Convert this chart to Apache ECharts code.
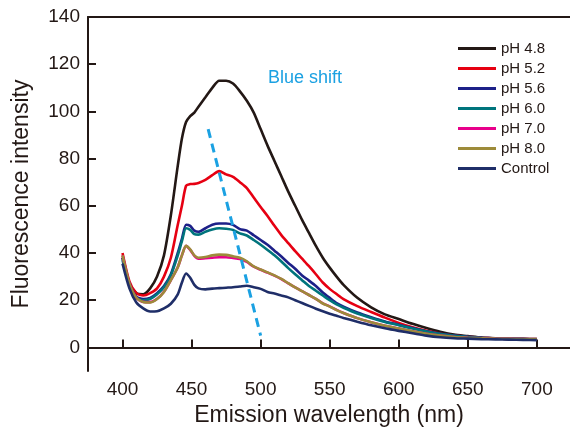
<!DOCTYPE html>
<html>
<head>
<meta charset="utf-8">
<script src="https://cdn.jsdelivr.net/npm/echarts@6/dist/echarts.min.js"></script>
<style>
  html, body { margin: 0; padding: 0; background: #ffffff; }
  #chart { width: 570px; height: 434px; }
</style>
</head>
<body>
<div id="chart"></div>
<script>
// Emission wavelength grid (nm)
const wavelength = [400,405,410,415,420,425,430,435,440,443,446,449,452,455,460,465,470,475,480,485,490,495,500,505,510,515,520,525,530,535,540,545,550,555,560,570,580,590,600,610,620,630,640,650,660,670,680,690,700];

// Fluorescence intensity per condition
const ph48 = [38,27,23,22.5,25,30,39,56,77,88.5,95.5,98,99.5,102,106,110,113,113,111.8,108.5,104.5,99.5,92.5,85.5,79,72.5,66,60,54,48.5,43,38,33.8,30,26.5,21,17,14,12,10,8.2,6.6,5.4,4.8,4.2,3.9,3.7,3.6,3.5];
const ph52 = [40,28,23,22,23,25,30,38,52,60,68.5,69.2,69.3,69.7,71,73,74.7,73.3,72.3,70,67.5,63.5,59.5,55.7,51.5,47.6,44.2,40.8,37.6,34.4,31,27.5,24.8,22.6,20.5,17.5,15,12.6,10.4,8.5,7,5.8,5,4.5,4.1,3.8,3.6,3.5,3.4];
const ph56 = [38,27,21.5,20.5,21,23,26,31,40,46,52,51.5,49.5,49,50.5,52,52.5,52.5,51.9,50.1,49.5,47.5,45.5,43.5,41,38.5,35.8,33.3,30.5,28.3,26,23.3,21,18.8,17.3,14.8,12.8,11,9.6,8.2,6.8,5.8,5,4.5,4.1,3.8,3.6,3.5,3.4];
const ph60 = [37,26.5,21,20,20.5,22.5,25.5,30.5,39,45,50.5,49.8,48,47.8,49,50,50.5,50.3,49.8,48.3,47.4,45.5,43.5,41.3,39,36.4,33.6,31,28.5,26,24,22,20,18.2,16.8,14.4,12.5,10.8,9.4,8,6.7,5.7,4.9,4.4,4,3.8,3.6,3.5,3.4];
const ph70 = [39,27,21,19.3,19.2,20.6,23.6,28.5,34,39,43,41.3,38.8,37.6,37.8,38,38.2,38.2,37.9,37.5,36.2,34.2,32.9,31.7,30.4,28.9,27.1,25.4,23.8,22.2,20.6,18.7,17.4,15.9,14.6,12.4,10.7,9.2,8,6.8,5.8,5,4.4,4.1,3.9,3.7,3.6,3.5,3.5];
const ph80 = [39,27,21,19.2,19,20.5,23.5,28.5,34,39,43,41.5,39,38,38.3,39,39.3,39.2,38.6,38,36.5,34.3,33,31.8,30.5,29,27.2,25.4,23.8,22.2,20.6,18.6,17.3,15.8,14.6,12.4,10.7,9.2,8,6.8,5.8,5,4.4,4.1,3.9,3.7,3.6,3.5,3.5];
const control = [35.5,25,19,16.5,15.2,15.3,16.5,18.5,22.5,27.5,31.3,29.5,26.5,25,24.6,24.9,25.1,25.3,25.5,25.8,26.1,25.5,24.8,23.5,22.8,22,21.2,20,18.8,17.6,16.4,15.3,14.3,13.4,12.5,10.9,9.4,8.1,7,6,5,4.3,3.9,3.7,3.5,3.4,3.3,3.2,3.1];

const seriesNames = ['pH 4.8','pH 5.2','pH 5.6','pH 6.0','pH 7.0','pH 8.0','Control'];
const seriesValues = [ph48, ph52, ph56, ph60, ph70, ph80, control];
const seriesColors = ['#231815','#e60012','#1d2088','#00747c','#e8008a','#9d8b3a','#1f2e68'];

// Tick positions
const xTicks = [400,450,500,550,600,650,700];
const yTicks = [0,20,40,60,80,100,120,140];

// Dashed guide showing the peak shift: [wavelength, intensity]
const shiftStart = [462, 92.5];
const shiftEnd = [500, 5];

const axisColor = '#231815';
const font = 'Liberation Sans, Arial, sans-serif';

const pair = (vals) => wavelength.map((w, i) => [w, vals[i]]);

const chart = echarts.init(document.getElementById('chart'), null, { renderer: 'canvas' });

const series = seriesNames.map((name, i) => ({
  name,
  type: 'line',
  data: pair(seriesValues[i]),
  showSymbol: false,
  smooth: 0.25,
  lineStyle: { color: seriesColors[i], width: 2.6 },
  itemStyle: { color: seriesColors[i] },
  emphasis: { disabled: true },
  z: 2 + i
}));

series.push({
  name: 'shift',
  type: 'line',
  data: [shiftStart, shiftEnd],
  showSymbol: false,
  lineStyle: { color: '#1ba1e2', width: 3, type: [9, 6] },
  emphasis: { disabled: true },
  z: 20
});

chart.setOption({
  animation: false,
  backgroundColor: '#ffffff',
  grid: { left: 88, right: 0, top: 17, bottom: 63 },
  legend: {
    data: seriesNames,
    orient: 'vertical',
    left: 458,
    top: 41,
    padding: 0,
    itemWidth: 38,
    itemHeight: 3,
    itemGap: 5,
    icon: 'rect',
    textStyle: { fontFamily: font, fontSize: 15, color: '#231815' }
  },
  xAxis: [{
    type: 'value',
    min: 375,
    max: 724,
    position: 'bottom',
    name: 'Emission wavelength (nm)',
    nameLocation: 'middle',
    nameGap: 30,
    nameTextStyle: { fontFamily: font, fontSize: 23, color: '#231815' },
    axisLine: { show: true, lineStyle: { color: axisColor, width: 2 } },
    axisTick: { show: true, inside: true, length: 8, lineStyle: { color: axisColor, width: 2 }, customValues: xTicks },
    axisLabel: { fontFamily: font, fontSize: 19, color: '#231815', margin: 9, customValues: xTicks },
    splitLine: { show: false }
  }, {
    type: 'value',
    min: 375,
    max: 724,
    position: 'top',
    axisLine: { show: true, onZero: false, lineStyle: { color: axisColor, width: 2 } },
    axisTick: { show: false },
    axisLabel: { show: false },
    splitLine: { show: false }
  }],
  yAxis: [{
    type: 'value',
    min: -10,
    max: 140,
    position: 'left',
    name: 'Fluorescence intensity',
    nameLocation: 'middle',
    nameGap: 55,
    nameTextStyle: { fontFamily: font, fontSize: 23, color: '#231815' },
    axisLine: { show: true, lineStyle: { color: axisColor, width: 2 } },
    axisTick: { show: true, inside: true, length: 8, lineStyle: { color: axisColor, width: 2 }, customValues: yTicks },
    axisLabel: { fontFamily: font, fontSize: 19, color: '#231815', margin: 8, customValues: yTicks },
    splitLine: { show: false }
  }, {
    type: 'value',
    min: -10,
    max: 140,
    position: 'right',
    offset: 1,
    axisLine: { show: true, onZero: false, lineStyle: { color: '#d8d8d8', width: 1 } },
    axisTick: { show: false },
    axisLabel: { show: false },
    splitLine: { show: false }
  }],
  graphic: [{
    type: 'text',
    left: 268,
    top: 69,
    style: { text: 'Blue shift', fontFamily: font, fontSize: 18, fill: '#1ba1e2' }
  }],
  series
});
</script>
</body>
</html>
